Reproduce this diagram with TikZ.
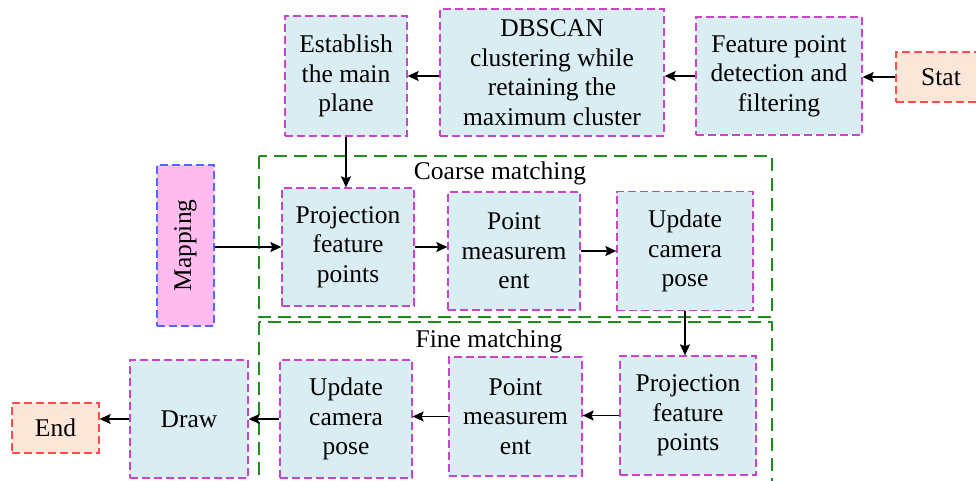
\documentclass[tikz,border=0pt]{standalone}
\usepackage{fontspec}
\newfontfamily\tmsfont{Liberation Serif}
\usetikzlibrary{arrows.meta}
\definecolor{boxfill}{HTML}{DAEDF2}
\definecolor{boxline}{HTML}{C845C8}
\definecolor{grp}{HTML}{1E8C1E}
\definecolor{termfill}{HTML}{FCE6D8}
\definecolor{termline}{HTML}{FF4D4D}
\definecolor{mapfill}{HTML}{FFBBEE}
\definecolor{mapline}{HTML}{5566FF}
\tikzset{
  stepbox/.style={draw=boxline, fill=boxfill, line width=1.3pt, dash pattern=on 8pt off 4pt,
    align=center, inner sep=0pt, font=\tmsfont\fontsize{25.5}{29.5}\selectfont},
  termbox/.style={stepbox, draw=termline, fill=termfill},
  mapbox/.style={stepbox, draw=mapline, fill=mapfill},
  grpbox/.style={draw=grp, line width=1.3pt, dash pattern=on 13pt off 7pt},
  grplabel/.style={font=\tmsfont\fontsize{25.5}{29.5}\selectfont, inner sep=0pt},
  arr/.style={-{Stealth[length=11pt,width=10pt,inset=2pt]}, line width=1.4pt, black}
}
\begin{document}
\begin{tikzpicture}[x=1pt,y=-1pt]
\useasboundingbox (0,0) rectangle (976,481);
% groups
\draw[grpbox] (259,156) rectangle (772,317);
\draw[grpbox] (259,322) rectangle (772,510);
\node[grplabel] (coarse) at (500,173) {Coarse matching};
\node[grplabel] (fine) at (489,341) {Fine matching};
% top row
\node[termbox, minimum width=90pt, minimum height=50pt] (stat) at (941,77) {Stat};
\node[stepbox, minimum width=166pt, minimum height=118pt] (feat) at (779,76) {Feature point\\detection and\\filtering};
\node[stepbox, minimum width=224pt, minimum height=127pt] (dbscan) at (552,72.5) {DBSCAN\\clustering while\\retaining the\\maximum cluster};
\node[stepbox, minimum width=122pt, minimum height=120pt] (estab) at (346,76) {Establish\\the main\\plane};
% coarse row
\node[mapbox, minimum width=57pt, minimum height=161pt] (map) at (185.5,245.5) {\rotatebox{90}{Mapping}};
\node[stepbox, minimum width=132pt, minimum height=118pt] (proj1) at (348,247) {Projection\\feature\\points};
\node[stepbox, minimum width=132pt, minimum height=118pt] (pm1) at (514,251) {Point\\measurem\\ent};
\node[stepbox, minimum width=136pt, minimum height=119pt] (ucp1) at (685,251) {Update\\camera\\pose};
% fine row
\node[stepbox, minimum width=136pt, minimum height=119pt] (proj2) at (688,415.5) {Projection\\feature\\points};
\node[stepbox, minimum width=133pt, minimum height=119pt] (pm2) at (515.5,416.5) {Point\\measurem\\ent};
\node[stepbox, minimum width=132pt, minimum height=118pt] (ucp2) at (346,419) {Update\\camera\\pose};
\node[stepbox, minimum width=118pt, minimum height=118pt] (drawn) at (189,419) {Draw};
\node[termbox, minimum width=87pt, minimum height=50pt] (endn) at (55.5,428) {End};
% arrows
\draw[arr] (stat.west) -- (stat.west -| feat.east);
\draw[arr] (feat.west) -- (feat.west -| dbscan.east);
\draw[arr] (dbscan.west |- estab.east) -- (estab.east);
\draw[arr] (estab.south) -- (estab.south |- proj1.north);
\draw[arr] (map.east |- proj1.west) -- (proj1.west);
\draw[arr] (proj1.east) -- (proj1.east -| pm1.west);
\draw[arr] (pm1.east) -- (pm1.east -| ucp1.west);
\draw[arr] (ucp1.south) -- (ucp1.south |- proj2.north);
\draw[arr] (proj2.west) -- (proj2.west -| pm2.east);
\draw[arr] (pm2.west) -- (pm2.west -| ucp2.east);
\draw[arr] (ucp2.west) -- (ucp2.west -| drawn.east);
\draw[arr] (drawn.west) -- (drawn.west -| endn.east);
\end{tikzpicture}
\end{document}
